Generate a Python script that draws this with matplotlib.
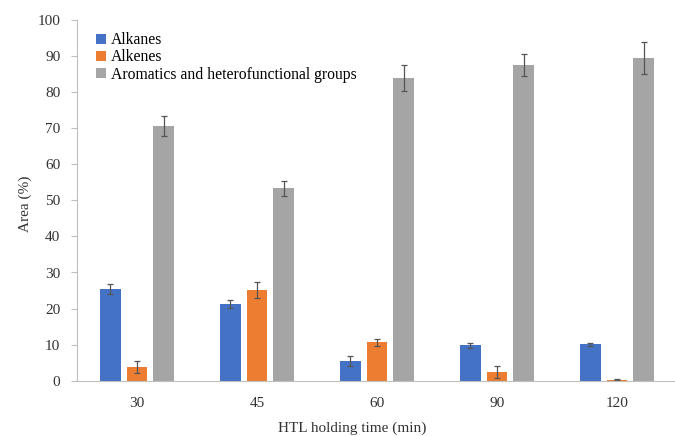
import numpy as np
import matplotlib.pyplot as plt

times = ['30', '45', '60', '90', '120']
alkanes = [25.4, 21.3, 5.4, 9.8, 10.1]
alkanes_err = [1.3, 1.1, 1.3, 0.7, 0.4]
alkenes = [3.8, 25.1, 10.6, 2.4, 0.2]
alkenes_err = [1.6, 2.3, 1.0, 1.6, 0.1]
aromatics = [70.7, 53.4, 84.0, 87.6, 89.6]
aromatics_err = [2.9, 2.1, 3.6, 3.0, 4.4]

plt.rcParams['font.family'] = ['Liberation Serif', 'DejaVu Serif']

fig = plt.figure(figsize=(6.75, 4.36), dpi=100)
# plot area runs off the right edge, like the source
ax = fig.add_axes([77 / 675, 1 - 380.5 / 436, 600 / 675, 360 / 436])

x = np.arange(len(times))
w = 0.172
step = 0.222
err_kw = dict(ecolor='#555555', elinewidth=0.9, capsize=2.5, capthick=0.9)

ax.bar(x - step, alkanes, w, yerr=alkanes_err, color='#4472C4', label='Alkanes', error_kw=err_kw)
ax.bar(x, alkenes, w, yerr=alkenes_err, color='#ED7D31', label='Alkenes', error_kw=err_kw)
ax.bar(x + step, aromatics, w, yerr=aromatics_err, color='#A5A5A5',
       label='Aromatics and heterofunctional groups', error_kw=err_kw)

ax.set_xlim(-0.5, 4.5)
ax.set_ylim(0, 100)
ax.set_yticks(range(0, 101, 10))
ax.set_xticks(x)
ax.set_xticklabels(times)
ax.tick_params(axis='x', length=0, labelsize=11, pad=12, colors='#333333')
ax.tick_params(axis='y', length=4, labelsize=11, colors='#333333', pad=8)
ax.tick_params(axis='y', color='#bfbfbf')

for s in ['top', 'right']:
    ax.spines[s].set_visible(False)
ax.spines['left'].set_color('#bfbfbf')
ax.spines['bottom'].set_color('#bfbfbf')

ax.set_xlabel('HTL holding time (min)', fontsize=11, color='#333333')
ax.xaxis.set_label_coords((352 - 77) / 600, -(428 - 380.5) / 360)
ax.xaxis.label.set_va('center')
ax.set_ylabel('Area (%)', fontsize=11, color='#333333')
ax.yaxis.set_label_coords(-(77 - 25) / 600, (380.5 - 204) / 360)
ax.yaxis.label.set_va('center')

ax.legend(loc='upper left', bbox_to_anchor=(0.022, 0.985), frameon=False, fontsize=11.3,
          handlelength=0.6, handleheight=0.6, handletextpad=0.3, labelspacing=0.08,
          borderaxespad=0)

fig.savefig('out.png', dpi=100)
